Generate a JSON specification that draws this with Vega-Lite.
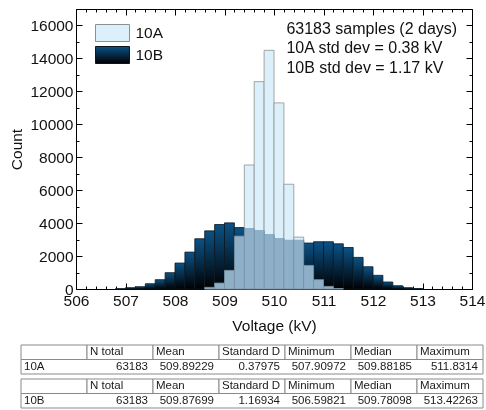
{
  "$schema": "https://vega.github.io/schema/vega-lite/v6.json",
  "padding": {"left": 9, "top": 2, "right": 0, "bottom": 0},
  "background": "white",
  "config": {
    "font": "Liberation Sans",
    "view": {"stroke": null},
    "axis": {"labelFont": "Liberation Sans", "titleFont": "Liberation Sans", "labelColor": "#111111", "titleColor": "#111111", "titleFontWeight": "normal", "domainColor": "#000000", "tickColor": "#000000", "grid": false},
    "legend": {"labelFont": "Liberation Sans"}
  },
  "datasets": {
    "hist": [
      {"series": "10A", "lo": 508.6, "hi": 508.8, "count": 100},
      {"series": "10A", "lo": 508.8, "hi": 509.0, "count": 360},
      {"series": "10A", "lo": 509.0, "hi": 509.2, "count": 1130},
      {"series": "10A", "lo": 509.2, "hi": 509.4, "count": 3210},
      {"series": "10A", "lo": 509.4, "hi": 509.6, "count": 7530},
      {"series": "10A", "lo": 509.6, "hi": 509.8, "count": 12590},
      {"series": "10A", "lo": 509.8, "hi": 510.0, "count": 14490},
      {"series": "10A", "lo": 510.0, "hi": 510.2, "count": 11300},
      {"series": "10A", "lo": 510.2, "hi": 510.4, "count": 6360},
      {"series": "10A", "lo": 510.4, "hi": 510.6, "count": 3150},
      {"series": "10A", "lo": 510.6, "hi": 510.8, "count": 1430},
      {"series": "10A", "lo": 510.8, "hi": 511.0, "count": 565},
      {"series": "10A", "lo": 511.0, "hi": 511.2, "count": 160},
      {"series": "10A", "lo": 511.2, "hi": 511.4, "count": 30},
      {"series": "10B", "lo": 506.8, "hi": 507.0, "count": 20},
      {"series": "10B", "lo": 507.0, "hi": 507.2, "count": 80},
      {"series": "10B", "lo": 507.2, "hi": 507.4, "count": 140},
      {"series": "10B", "lo": 507.4, "hi": 507.6, "count": 320},
      {"series": "10B", "lo": 507.6, "hi": 507.8, "count": 565},
      {"series": "10B", "lo": 507.8, "hi": 508.0, "count": 990},
      {"series": "10B", "lo": 508.0, "hi": 508.2, "count": 1575},
      {"series": "10B", "lo": 508.2, "hi": 508.4, "count": 2240},
      {"series": "10B", "lo": 508.4, "hi": 508.6, "count": 3050},
      {"series": "10B", "lo": 508.6, "hi": 508.8, "count": 3530},
      {"series": "10B", "lo": 508.8, "hi": 509.0, "count": 3915},
      {"series": "10B", "lo": 509.0, "hi": 509.2, "count": 4015},
      {"series": "10B", "lo": 509.2, "hi": 509.4, "count": 3730},
      {"series": "10B", "lo": 509.4, "hi": 509.6, "count": 3650},
      {"series": "10B", "lo": 509.6, "hi": 509.8, "count": 3530},
      {"series": "10B", "lo": 509.8, "hi": 510.0, "count": 3290},
      {"series": "10B", "lo": 510.0, "hi": 510.2, "count": 3050},
      {"series": "10B", "lo": 510.2, "hi": 510.4, "count": 2950},
      {"series": "10B", "lo": 510.4, "hi": 510.6, "count": 2950},
      {"series": "10B", "lo": 510.6, "hi": 510.8, "count": 2790},
      {"series": "10B", "lo": 510.8, "hi": 511.0, "count": 2870},
      {"series": "10B", "lo": 511.0, "hi": 511.2, "count": 2870},
      {"series": "10B", "lo": 511.2, "hi": 511.4, "count": 2745},
      {"series": "10B", "lo": 511.4, "hi": 511.6, "count": 2520},
      {"series": "10B", "lo": 511.6, "hi": 511.8, "count": 1920},
      {"series": "10B", "lo": 511.8, "hi": 512.0, "count": 1350},
      {"series": "10B", "lo": 512.0, "hi": 512.2, "count": 830},
      {"series": "10B", "lo": 512.2, "hi": 512.4, "count": 425},
      {"series": "10B", "lo": 512.4, "hi": 512.6, "count": 200},
      {"series": "10B", "lo": 512.6, "hi": 512.8, "count": 80},
      {"series": "10B", "lo": 512.8, "hi": 513.0, "count": 30}
    ],
    "tables": [
      {"tbl": "A", "row": "h", "ci": 0, "ci2": 1, "text": ""},
      {"tbl": "A", "row": "h", "ci": 1, "ci2": 2, "text": "N total"},
      {"tbl": "A", "row": "h", "ci": 2, "ci2": 3, "text": "Mean"},
      {"tbl": "A", "row": "h", "ci": 3, "ci2": 4, "text": "Standard D"},
      {"tbl": "A", "row": "h", "ci": 4, "ci2": 5, "text": "Minimum"},
      {"tbl": "A", "row": "h", "ci": 5, "ci2": 6, "text": "Median"},
      {"tbl": "A", "row": "h", "ci": 6, "ci2": 7, "text": "Maximum"},
      {"tbl": "A", "row": "d", "ci": 0, "ci2": 1, "text": "10A"},
      {"tbl": "A", "row": "d", "ci": 1, "ci2": 2, "text": "63183"},
      {"tbl": "A", "row": "d", "ci": 2, "ci2": 3, "text": "509.89229"},
      {"tbl": "A", "row": "d", "ci": 3, "ci2": 4, "text": "0.37975"},
      {"tbl": "A", "row": "d", "ci": 4, "ci2": 5, "text": "507.90972"},
      {"tbl": "A", "row": "d", "ci": 5, "ci2": 6, "text": "509.88185"},
      {"tbl": "A", "row": "d", "ci": 6, "ci2": 7, "text": "511.8314"},
      {"tbl": "B", "row": "h", "ci": 0, "ci2": 1, "text": ""},
      {"tbl": "B", "row": "h", "ci": 1, "ci2": 2, "text": "N total"},
      {"tbl": "B", "row": "h", "ci": 2, "ci2": 3, "text": "Mean"},
      {"tbl": "B", "row": "h", "ci": 3, "ci2": 4, "text": "Standard D"},
      {"tbl": "B", "row": "h", "ci": 4, "ci2": 5, "text": "Minimum"},
      {"tbl": "B", "row": "h", "ci": 5, "ci2": 6, "text": "Median"},
      {"tbl": "B", "row": "h", "ci": 6, "ci2": 7, "text": "Maximum"},
      {"tbl": "B", "row": "d", "ci": 0, "ci2": 1, "text": "10B"},
      {"tbl": "B", "row": "d", "ci": 1, "ci2": 2, "text": "63183"},
      {"tbl": "B", "row": "d", "ci": 2, "ci2": 3, "text": "509.87699"},
      {"tbl": "B", "row": "d", "ci": 3, "ci2": 4, "text": "1.16934"},
      {"tbl": "B", "row": "d", "ci": 4, "ci2": 5, "text": "506.59821"},
      {"tbl": "B", "row": "d", "ci": 5, "ci2": 6, "text": "509.78098"},
      {"tbl": "B", "row": "d", "ci": 6, "ci2": 7, "text": "513.42263"}
    ]
  },
  "spacing": 10,
  "vconcat": [
    {
      "width": 396,
      "height": 280,
      "data": {"name": "hist"},
      "resolve": {"axis": {"x": "independent", "y": "independent"}},
      "layer": [
        {
          "transform": [{"filter": "datum.series === '10A'"}],
          "mark": {"type": "rect", "fill": "#dcf0fc", "strokeWidth": 0.8},
          "encoding": {
            "x": {"field": "lo", "type": "quantitative", "scale": {"domain": [506, 514], "nice": false, "zero": false},
              "axis": {"orient": "bottom", "title": "Voltage (kV)", "titleFontSize": 15.5, "titlePadding": 7, "labelFontSize": 15.5, "tickCount": 40,
                "labelExpr": "abs(datum.value - round(datum.value)) < 0.001 ? format(datum.value, 'd') : ''",
                "tickSize": {"condition": {"test": "abs(datum.value - round(datum.value)) < 0.001", "value": -6}, "value": -3},
                "labelPadding": 10, "labelFlush": false, "labelOverlap": false}},
            "x2": {"field": "hi"},
            "y": {"field": "count", "type": "quantitative", "scale": {"domain": [0, 17000], "nice": false},
              "axis": {"orient": "left", "title": "Count", "titleFontSize": 15.5, "titlePadding": 5, "labelFontSize": 15.5, "tickCount": 17,
                "labelExpr": "datum.value % 2000 === 0 ? format(datum.value, 'd') : ''",
                "tickSize": {"condition": {"test": "datum.value % 2000 === 0", "value": -6}, "value": -3},
                "labelPadding": 9, "labelFlush": false, "labelOverlap": false}},
            "y2": {"datum": 0},
            "stroke": {"datum": "10A", "type": "nominal", "scale": {"domain": ["10A", "10B"], "range": ["#8f8f8f", "#0a1620"]},
              "legend": {"title": null, "orient": "none", "legendX": 27.5, "legendY": 15, "padding": 0,
                "symbolType": "M-2,-1H2V1H-2Z", "symbolSize": 289, "symbolStrokeWidth": 1,
                "labelFontSize": 15.5, "labelColor": "#111111", "labelOffset": 14, "rowPadding": 0,
                "encoding": {"symbols": {
                  "fill": {"condition": {"test": "datum.value === '10B'", "value": {"gradient": "linear", "x1": 0, "y1": 0, "x2": 0, "y2": 1, "stops": [{"offset": 0, "color": "#0b5286"}, {"offset": 1, "color": "#000000"}]}}, "value": "#dcf0fc"},
                  "fillOpacity": {"value": 1},
                  "opacity": {"value": 1}
                }}}}
          }
        },
        {
          "transform": [{"filter": "datum.series === '10B'"}],
          "mark": {"type": "rect", "strokeWidth": 0.8, "fill": {"gradient": "linear", "x1": 0, "y1": 0, "x2": 0, "y2": 1, "stops": [{"offset": 0, "color": "#0b5286"}, {"offset": 1, "color": "#000000"}]}},
          "encoding": {
            "x": {"field": "lo", "type": "quantitative", "scale": {"domain": [506, 514], "nice": false, "zero": false},
              "axis": {"orient": "top", "title": null, "labels": false, "tickCount": 40,
                "tickSize": {"condition": {"test": "abs(datum.value - round(datum.value)) < 0.001", "value": -6}, "value": -3}}},
            "x2": {"field": "hi"},
            "y": {"field": "count", "type": "quantitative", "scale": {"domain": [0, 17000], "nice": false},
              "axis": {"orient": "right", "title": null, "labels": false, "tickCount": 17,
                "tickSize": {"condition": {"test": "datum.value % 2000 === 0", "value": -6}, "value": -3}}},
            "y2": {"datum": 0},
            "stroke": {"datum": "10B", "type": "nominal"}
          }
        },
        {
          "transform": [{"filter": "datum.series === '10A'"}],
          "mark": {"type": "rect", "fill": "#8db0c8", "stroke": "#7a93a6", "strokeWidth": 0.8, "blend": "lighten"},
          "encoding": {
            "x": {"field": "lo", "type": "quantitative", "axis": null},
            "x2": {"field": "hi"},
            "y": {"field": "count", "type": "quantitative", "axis": null},
            "y2": {"datum": 0}
          }
        },
        {
          "data": {"values": [{"note": "stats"}]},
          "mark": {"type": "text", "align": "left", "baseline": "top", "fontSize": 16, "lineHeight": 19.5, "color": "#111111", "font": "Liberation Sans"},
          "encoding": {
            "x": {"datum": 510.25, "type": "quantitative", "axis": null},
            "y": {"datum": 16280, "type": "quantitative", "axis": null},
            "text": {"value": ["63183 samples (2 days)", "10A std dev = 0.38 kV", "10B std dev = 1.17 kV"]}
          }
        }
      ]
    },
    {
      "spacing": 3,
      "vconcat": [
        {
          "width": 407, "height": 29,
          "data": {"name": "tables"},
          "transform": [{"filter": "datum.tbl === 'A'"}],
          "encoding": {
            "y": {"field": "row", "type": "nominal", "scale": {"domain": ["h", "d"], "paddingInner": 0, "paddingOuter": 0}, "axis": null}
          },
          "layer": [
            {"transform": [{"filter": "datum.row === 'h'"}], "mark": {"type": "rect", "fill": "white", "stroke": "#8a8a8a", "strokeWidth": 1},
              "encoding": {"x": {"field": "ci", "type": "quantitative", "scale": {"domain": [0, 7], "range": [-55, 407], "nice": false, "zero": false}, "axis": null}, "x2": {"field": "ci2"}}},
            {"transform": [{"filter": "datum.row === 'd' && datum.ci === 0"}], "mark": {"type": "rect", "fill": "white", "stroke": "#8a8a8a", "strokeWidth": 1},
              "encoding": {"x": {"datum": 0, "type": "quantitative", "axis": null}, "x2": {"datum": 7}}},
            {"transform": [{"filter": "datum.row === 'h' || datum.ci === 0"}],
              "mark": {"type": "text", "align": "left", "dx": 3, "fontSize": 11.5, "color": "#1a1a1a"},
              "encoding": {"x": {"field": "ci", "type": "quantitative", "axis": null}, "text": {"field": "text"}}},
            {"transform": [{"filter": "datum.row === 'd' && datum.ci !== 0"}],
              "mark": {"type": "text", "align": "right", "dx": -5, "fontSize": 11.5, "color": "#1a1a1a"},
              "encoding": {"x": {"field": "ci2", "type": "quantitative", "axis": null}, "text": {"field": "text"}}}
          ]
        },
        {
          "width": 407, "height": 29,
          "data": {"name": "tables"},
          "transform": [{"filter": "datum.tbl === 'B'"}],
          "encoding": {
            "y": {"field": "row", "type": "nominal", "scale": {"domain": ["h", "d"], "paddingInner": 0, "paddingOuter": 0}, "axis": null}
          },
          "layer": [
            {"transform": [{"filter": "datum.row === 'h'"}], "mark": {"type": "rect", "fill": "white", "stroke": "#8a8a8a", "strokeWidth": 1},
              "encoding": {"x": {"field": "ci", "type": "quantitative", "scale": {"domain": [0, 7], "range": [-55, 407], "nice": false, "zero": false}, "axis": null}, "x2": {"field": "ci2"}}},
            {"transform": [{"filter": "datum.row === 'd' && datum.ci === 0"}], "mark": {"type": "rect", "fill": "white", "stroke": "#8a8a8a", "strokeWidth": 1},
              "encoding": {"x": {"datum": 0, "type": "quantitative", "axis": null}, "x2": {"datum": 7}}},
            {"transform": [{"filter": "datum.row === 'h' || datum.ci === 0"}],
              "mark": {"type": "text", "align": "left", "dx": 3, "fontSize": 11.5, "color": "#1a1a1a"},
              "encoding": {"x": {"field": "ci", "type": "quantitative", "axis": null}, "text": {"field": "text"}}},
            {"transform": [{"filter": "datum.row === 'd' && datum.ci !== 0"}],
              "mark": {"type": "text", "align": "right", "dx": -5, "fontSize": 11.5, "color": "#1a1a1a"},
              "encoding": {"x": {"field": "ci2", "type": "quantitative", "axis": null}, "text": {"field": "text"}}}
          ]
        }
      ]
    }
  ]
}
